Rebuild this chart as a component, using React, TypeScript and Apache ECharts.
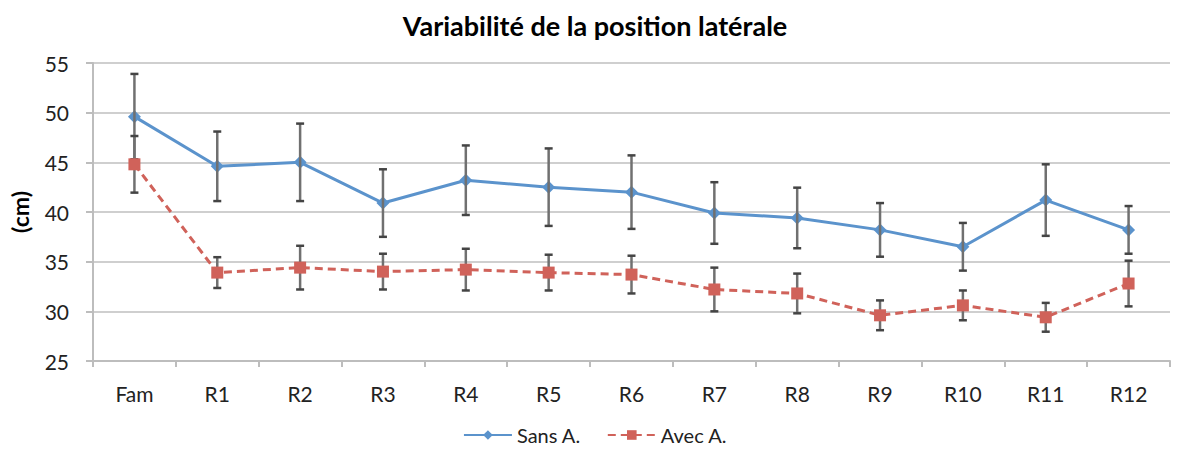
import React, { useEffect, useRef } from "react";
import * as echarts from "echarts";

const categories = ["Fam", "R1", "R2", "R3", "R4", "R5", "R6", "R7", "R8", "R9", "R10", "R11", "R12"];
const sansMean = [49.6, 44.6, 45.0, 40.9, 43.2, 42.5, 42.0, 39.9, 39.4, 38.2, 36.5, 41.2, 38.2];
const sansErr = [4.3, 3.5, 3.9, 3.4, 3.5, 3.9, 3.7, 3.1, 3.05, 2.7, 2.4, 3.6, 2.4];
const avecMean = [44.8, 33.9, 34.4, 34.0, 34.2, 33.9, 33.7, 32.2, 31.8, 29.6, 30.6, 29.4, 32.8];
const avecErr = [2.85, 1.55, 2.2, 1.8, 2.1, 1.8, 1.9, 2.2, 2.0, 1.5, 1.5, 1.45, 2.3];
const yTicks = [25, 30, 35, 40, 45, 50, 55];

const FONT = "Lato, 'Open Sans', sans-serif";

function errData(mean: number[], err: number[]) {
  return mean.map((m, i) => [i, m - err[i], m + err[i]]);
}

function renderErr(params: any, api: any) {
  const x = api.value(0);
  const lo = api.coord([x, api.value(1)]);
  const hi = api.coord([x, api.value(2)]);
  const half = 4;
  const style = { stroke: "#707070", lineWidth: 2.5 };
  const cap = { stroke: "#444", lineWidth: 2.5 };
  return {
    type: "group",
    children: [
      { type: "line", shape: { x1: hi[0], y1: hi[1], x2: lo[0], y2: lo[1] }, style },
      { type: "line", shape: { x1: hi[0] - half, y1: hi[1], x2: hi[0] + half, y2: hi[1] }, style: cap },
      { type: "line", shape: { x1: lo[0] - half, y1: lo[1], x2: lo[0] + half, y2: lo[1] }, style: cap },
    ],
  };
}

export default function App() {
  const ref = useRef<HTMLDivElement>(null);
  useEffect(() => {
    if (!ref.current) return;
    const chart = echarts.init(ref.current, undefined, { renderer: "svg" });
    chart.setOption({
      animation: false,
      backgroundColor: "#ffffff",
      title: {
        text: "Variabilité de la position latérale",
        left: "center",
        top: 7,
        textStyle: { fontFamily: FONT, fontSize: 27, fontWeight: "bold", color: "#000" },
      },
      legend: {
        top: 420,
        left: "center",
        itemWidth: 48,
        itemHeight: 12,
        itemGap: 26,
        textStyle: { fontFamily: FONT, fontSize: 20, color: "#222" },
        data: ["Sans A.", "Avec A."],
      },
      grid: { left: 87, right: 20, top: 63, bottom: 89, containLabel: false },
      xAxis: {
        type: "category",
        data: categories,
        boundaryGap: true,
        axisLine: { lineStyle: { color: "#bdbdbd", width: 2 } },
        axisTick: { show: true, length: 6, lineStyle: { color: "#bdbdbd", width: 2 } },
        axisLabel: { fontFamily: FONT, fontSize: 21, color: "#222", margin: 22 },
      },
      yAxis: {
        type: "value",
        min: 25,
        max: 55,
        interval: 5,
        name: "(cm)",
        nameLocation: "middle",
        nameGap: 62,
        nameRotate: 90,
        nameTextStyle: { fontFamily: FONT, fontSize: 23, fontWeight: "bold", color: "#000" },
        axisLine: { show: true, lineStyle: { color: "#bdbdbd", width: 2 } },
        axisTick: { show: true, length: 7, lineStyle: { color: "#bdbdbd", width: 2 } },
        axisLabel: {
          fontFamily: FONT,
          fontSize: 21,
          color: "#222",
          margin: 24,
          formatter: (v: number) => (yTicks.includes(v) ? String(v) : ""),
        },
        splitLine: { lineStyle: { color: "#cfcfcf", width: 2 } },
      },
      series: [
        {
          type: "custom",
          name: "errSans",
          renderItem: renderErr,
          data: errData(sansMean, sansErr),
          z: 3,
          silent: true,
        },
        {
          type: "custom",
          name: "errAvec",
          renderItem: renderErr,
          data: errData(avecMean, avecErr),
          z: 3,
          silent: true,
        },
        {
          type: "line",
          name: "Sans A.",
          data: sansMean,
          symbol: "diamond",
          symbolSize: 13,
          lineStyle: { color: "#5b93cc", width: 3 },
          itemStyle: { color: "#5b93cc" },
          z: 2,
        },
        {
          type: "line",
          name: "Avec A.",
          data: avecMean,
          symbol: "rect",
          symbolSize: 12,
          lineStyle: { color: "#d0625a", width: 3, type: [8, 5] },
          itemStyle: { color: "#d0625a" },
          z: 4,
        },
      ],
    });
    return () => chart.dispose();
  }, []);
  return (
    <div
      ref={ref}
      style={{ position: "fixed", left: 0, top: 0, width: 1190, height: 450 }}
    />
  );
}
